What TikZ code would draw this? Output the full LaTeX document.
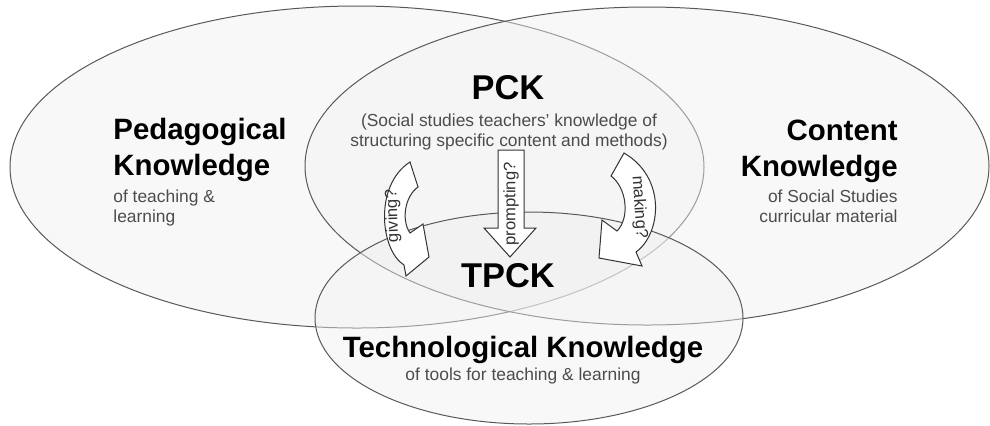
\documentclass[tikz,border=0pt]{standalone}
\usepackage{fontspec}
\setmainfont{Liberation Sans}

\begin{document}
\begin{tikzpicture}[x=0.5pt,y=-0.5pt,
  venn/.style={draw=black!65,line width=0.5pt,fill=black!6,fill opacity=0.45},
  blockarrow/.style={draw=black!80,line width=0.5pt,fill=white,line join=miter},
  bigtitle/.style={inner sep=0pt,font=\fontsize{17.2}{20}\selectfont\bfseries},
  areatitle/.style={inner sep=0pt,font=\fontsize{14.7}{18}\selectfont\bfseries},
  areasub/.style={inner sep=0pt,text=black!70,font=\fontsize{8.7}{10}\selectfont},
  arrowtext/.style={inner sep=0pt,text=black!80,font=\fontsize{8.3}{10}\selectfont}]
\useasboundingbox (0,0) rectangle (990,425);
\draw [venn] (357,167) ellipse [x radius=347, y radius=161];
\draw [venn] (647,166) ellipse [x radius=342, y radius=159];
\draw [venn] (529,318) ellipse [x radius=214, y radius=106];
% prompting?
\draw [blockarrow] (498,150) -- (524,150) -- (524,228) -- (536,228) -- (510,257)
  -- (484,228) -- (498,228) -- cycle;
\node [arrowtext,rotate=90] (prompting) at (511,204) {prompting?};
% giving?
\draw [blockarrow] (410,162) -- (418,187) .. controls (405,196) and (401,220) .. (410,233)
  -- (423,224) -- (429,257) -- (406,276) -- (404,265)
  .. controls (380,250) and (374,185) .. cycle;
\node [arrowtext,rotate=92] (giving) at (393,216) {giving?};
% making?
\draw [blockarrow] (624,153) -- (611,176) .. controls (627,188) and (630,218) .. (617,231)
  -- (602,220) -- (599,258) -- (642,266) -- (636,252)
  .. controls (661,234) and (667,178) .. cycle;
\node [arrowtext,rotate=-86] (making) at (639,207) {making?};
% labels
\node [areatitle,anchor=north west,align=left] (ped) at (113,118) {Pedagogical\\Knowledge};
\node [areasub,anchor=north west,align=left] (pedsub) at (113,189) {of teaching \&\\learning};
\node [areatitle,anchor=north east,align=right] (con) at (898,120) {Content\\Knowledge};
\node [areasub,anchor=north east,align=right] (consub) at (898,189) {of Social Studies\\curricular material};
\node [bigtitle,anchor=base] (pck) at (508,99) {PCK};
\node [areasub,anchor=north,align=center] (pcksub) at (509,113)
  {(Social studies teachers' knowledge of\\structuring specific content and methods)};
\node [bigtitle,anchor=base] (tpck) at (508,287) {TPCK};
\node [areatitle,anchor=base] (tech) at (523,357) {Technological Knowledge};
\node [areasub,anchor=base] (techsub) at (523,380) {of tools for teaching \& learning};
\end{tikzpicture}
\end{document}
